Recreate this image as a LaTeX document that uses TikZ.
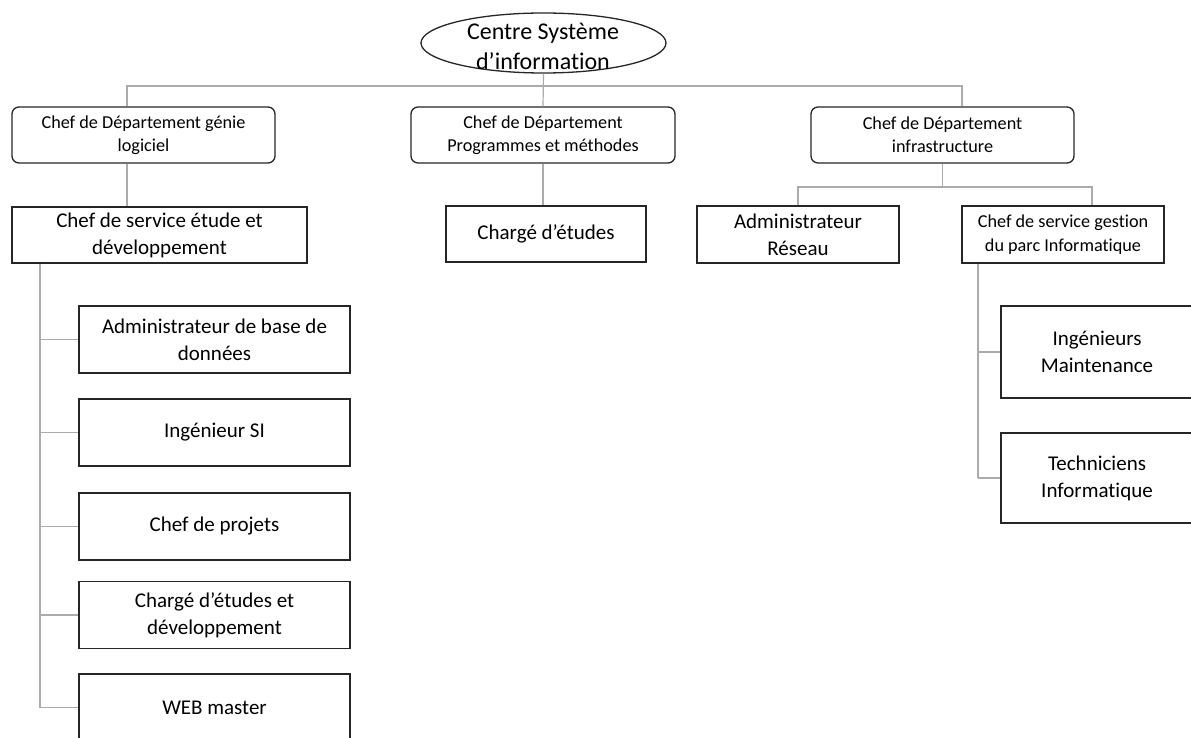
\documentclass[tikz,border=0pt]{standalone}
\usepackage{fontspec}
\setmainfont{Carlito}[Ligatures=NoCommon]
\usetikzlibrary{shapes.geometric}

\tikzset{
    dept/.style={draw=black!85, line width=1.3pt, rounded corners=7pt, minimum width=263, minimum height=56,
        align=center, inner sep=2pt, text=black, font=\fontsize{18.2}{23}\selectfont},
    post/.style={draw=black!85, line width=1.3pt, align=center, inner sep=2pt, text=black,
        font=\fontsize{21}{27}\selectfont},
    link/.style={draw=black!33, line width=1.2pt},
}

\begin{document}
\begin{tikzpicture}[x=1pt, y=-1pt]
    \useasboundingbox (0,0) rectangle (1191,738);
    \clip (0,0) rectangle (1191,738);

    % Head of the centre
    \node[ellipse, draw=black!85, line width=1.3pt, minimum width=245, minimum height=60, inner sep=0pt] (centre) at (543.5,43) {};
    \node[align=center, text=black, font=\fontsize{24}{30}\selectfont] (centretxt) at (543,46) {Centre Système\\d’information};

    % Departments
    \node[dept] (dep1) at (143.5,135) {Chef de Département génie\\logiciel};
    \node[dept, minimum width=264] (dep2) at (543,135) {Chef de Département\\Programmes et méthodes};
    \node[dept] (dep3) at (942.5,135) {Chef de Département\\infrastructure};

    % Services
    \node[post, minimum width=295, minimum height=56] (serv1) at (159.5,235) {Chef de service étude et\\développement};
    \node[post, minimum width=200, minimum height=56] (charge) at (546,234) {Chargé d’études};
    \node[post, minimum width=202, minimum height=57] (admres) at (798,234.5) {Administrateur\\Réseau};
    \node[post, minimum width=202, minimum height=57, font=\fontsize{18.2}{24}\selectfont] (serv3) at (1063,234.5) {Chef de service gestion\\du parc Informatique};

    % Staff of the software department
    \node[post, minimum width=271, minimum height=67] (bd) at (214.5,339.5) {Administrateur de base de\\données};
    \node[post, minimum width=271, minimum height=67] (si) at (214.5,432.5) {Ingénieur SI};
    \node[post, minimum width=271, minimum height=67] (proj) at (214.5,526.5) {Chef de projets};
    \node[post, minimum width=271, minimum height=67] (chdev) at (214.5,615) {Chargé d’études et\\développement};
    \node[post, minimum width=271, minimum height=67] (web) at (214.5,707.5) {WEB master};

    % Staff of the infrastructure department
    \node[post, minimum width=192, minimum height=92] (maint) at (1097,352) {Ingénieurs\\Maintenance};
    \node[post, minimum width=192, minimum height=90] (tech) at (1097,478) {Techniciens\\Informatique};

    % Top bus
    \coordinate (topbus) at (0,86);
    \draw[link] (centre.south) -- (dep2.north);
    \draw[link] ([xshift=-16.5]dep1.north) |- ([xshift=19.5]dep3.north |- topbus) -- ([xshift=19.5]dep3.north);

    % Department to service
    \draw[link] ([xshift=-16.5]dep1.south) -- ([xshift=-16.5]dep1.south |- serv1.north);
    \draw[link] (dep2.south) -- (dep2.south |- charge.north);

    % Infrastructure bus
    \coordinate (infbus) at (0,187);
    \draw[link] (dep3.south) -- (dep3.south |- infbus);
    \draw[link] (admres.north) |- ([xshift=29]serv3.north |- infbus) -- ([xshift=29]serv3.north);

    % Left bus
    \coordinate (lbus) at (40,0);
    \draw[link] (serv1.south -| lbus) -- (web.west -| lbus);
    \foreach \n in {bd,si,proj,chdev,web}
        \draw[link] (\n.west -| lbus) -- (\n.west);

    % Right bus
    \coordinate (rbus) at (978,0);
    \draw[link] (serv3.south -| rbus) -- (tech.west -| rbus);
    \foreach \n in {maint,tech}
        \draw[link] (\n.west -| rbus) -- (\n.west);
\end{tikzpicture}
\end{document}
